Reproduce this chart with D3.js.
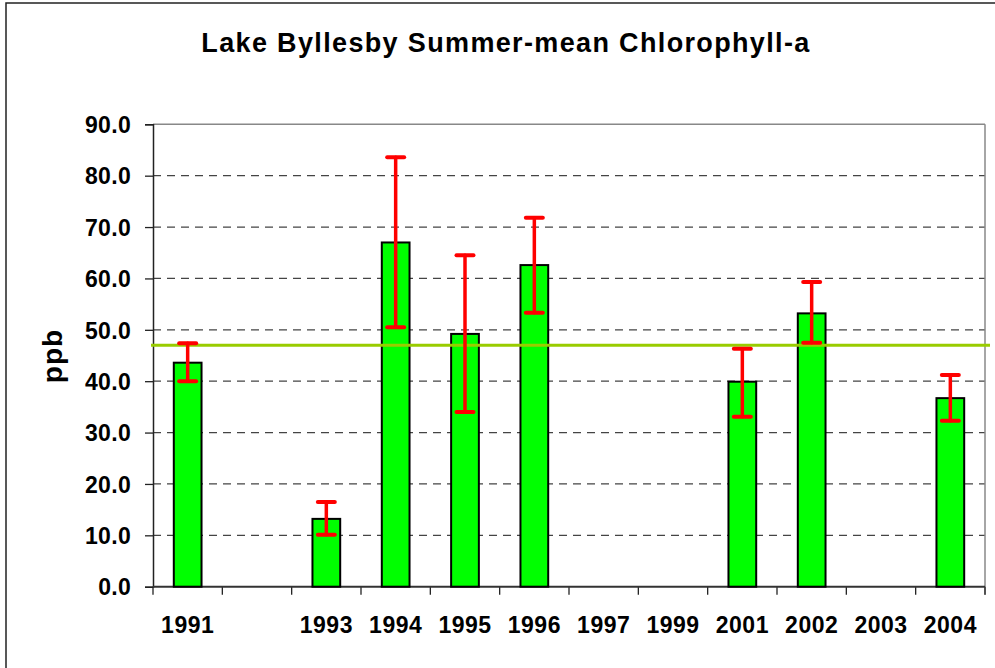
<!DOCTYPE html>
<html>
<head>
<meta charset="utf-8">
<script src="https://cdn.jsdelivr.net/npm/d3@7"></script>
<style>
  html, body { margin: 0; padding: 0; background: #fff; }
  svg { display: block; }
  text { font-family: "Liberation Sans", Arial, sans-serif; font-weight: bold; fill: #000; }
</style>
</head>
<body>
<svg id="chart" width="995" height="668"></svg>
<script>
// ---- data ----
const categories = ["1991", "1992", "1993", "1994", "1995", "1996", "1997", "1999", "2001", "2002", "2003", "2004"];
const tickLabels = ["1991", "", "1993", "1994", "1995", "1996", "1997", "1999", "2001", "2002", "2003", "2004"];
const means  = [43.6, null, 13.2, 67.0, 49.2, 62.6, null, null, 39.9, 53.2, null, 36.7];
const errLow = [40.0, null, 10.1, 50.5, 34.0, 53.3, null, null, 33.1, 47.5, null, 32.3];
const errHigh= [47.4, null, 16.5, 83.6, 64.5, 71.8, null, null, 46.3, 59.3, null, 41.2];
const referenceValue = 47.0;
const yTicks = [0, 10, 20, 30, 40, 50, 60, 70, 80, 90];
const titleText = "Lake Byllesby Summer-mean Chlorophyll-a";
const yTitle = "ppb";

// ---- layout ----
const svg = d3.select("#chart");
const pLeft = 153, pRight = 985, pTop = 124.3, pBottom = 586.7;

const x = d3.scaleBand().domain(categories).range([pLeft, pRight]).paddingInner(0).paddingOuter(0);
const y = d3.scaleLinear().domain([0, 90]).range([pBottom, pTop]);

// outer frame
svg.append("rect").attr("x", 6).attr("y", 3).attr("width", 1000).attr("height", 700)
  .attr("fill", "none").attr("stroke", "#222").attr("stroke-width", 1.5);

// title
svg.append("text").attr("x", 506).attr("y", 52).attr("text-anchor", "middle")
  .style("font-size", "27px").style("letter-spacing", "1.35px").text(titleText);

// gridlines (dashed)
svg.append("g").selectAll("line").data(yTicks.filter(d => d > 0 && d < 90)).join("line")
  .attr("x1", pLeft).attr("x2", pRight)
  .attr("y1", d => y(d)).attr("y2", d => y(d))
  .attr("stroke", "#444").attr("stroke-width", 1.3).attr("stroke-dasharray", "8,6");

// plot border top/right (gray)
svg.append("line").attr("x1", pLeft).attr("x2", pRight).attr("y1", y(90)).attr("y2", y(90))
  .attr("stroke", "#888").attr("stroke-width", 1.5);
svg.append("line").attr("x1", pRight).attr("x2", pRight).attr("y1", y(90)).attr("y2", pBottom + 8)
  .attr("stroke", "#888").attr("stroke-width", 1.5);

// y axis
const yAxis = d3.axisLeft(y).tickValues(yTicks).tickSize(8).tickPadding(14).tickFormat(d3.format(".1f"));
const gy = svg.append("g").attr("transform", `translate(${pLeft},0)`).call(yAxis);
gy.select(".domain").attr("stroke", "#222").attr("stroke-width", 1.5);
gy.selectAll(".tick line").attr("stroke", "#222").attr("stroke-width", 1.3);
gy.selectAll(".tick text").style("font-size", "23px").style("font-family", "'Liberation Sans', Arial, sans-serif")
  .style("font-weight", "bold").style("letter-spacing", "0.3px").attr("fill", "#000").attr("dy", "0.36em");

// x axis
const xAxis = d3.axisBottom(x).tickSize(0).tickPadding(30).tickFormat((d, i) => tickLabels[i]);
const gx = svg.append("g").attr("transform", `translate(0,${pBottom})`).call(xAxis);
gx.select(".domain").remove();
gx.selectAll(".tick text").style("font-size", "23px").style("font-family", "'Liberation Sans', Arial, sans-serif")
  .style("font-weight", "bold").style("letter-spacing", "0.5px").attr("fill", "#000");
// category boundary ticks
const boundaries = categories.map(c => x(c)).concat([pRight]);
svg.append("g").selectAll("line").data(boundaries).join("line")
  .attr("x1", d => d).attr("x2", d => d).attr("y1", pBottom).attr("y2", pBottom + 8)
  .attr("stroke", "#222").attr("stroke-width", 1.3);
svg.append("line").attr("x1", pLeft).attr("x2", pRight).attr("y1", pBottom).attr("y2", pBottom)
  .attr("stroke", "#333").attr("stroke-width", 2);

// y title
svg.append("text").attr("transform", `translate(62,356) rotate(-90)`).attr("text-anchor", "middle")
  .style("font-size", "28px").style("letter-spacing", "1px").text(yTitle);

// bars
const barW = x.bandwidth() * 0.4;
const rows = categories.map((c, i) => ({c, m: means[i], lo: errLow[i], hi: errHigh[i]})).filter(d => d.m != null);
svg.append("g").selectAll("rect").data(rows).join("rect")
  .attr("x", d => x(d.c) + x.bandwidth() / 2 - barW / 2)
  .attr("width", barW)
  .attr("y", d => y(d.m))
  .attr("height", d => y(0) - y(d.m))
  .attr("fill", "#00ff00").attr("stroke", "#000").attr("stroke-width", 2);

// reference line
svg.append("line").attr("x1", 151).attr("x2", 990)
  .attr("y1", y(referenceValue)).attr("y2", y(referenceValue))
  .attr("stroke", "#99cc00").attr("stroke-width", 3);

// error bars
const eb = svg.append("g").attr("stroke", "#ff0000").attr("stroke-linecap", "round");
const capW = 17;
eb.selectAll("line.v").data(rows).join("line").attr("class", "v")
  .attr("x1", d => x(d.c) + x.bandwidth() / 2).attr("x2", d => x(d.c) + x.bandwidth() / 2)
  .attr("y1", d => y(d.hi)).attr("y2", d => y(d.lo)).attr("stroke-width", 3.5);
eb.selectAll("line.t").data(rows).join("line").attr("class", "t")
  .attr("x1", d => x(d.c) + x.bandwidth() / 2 - capW / 2).attr("x2", d => x(d.c) + x.bandwidth() / 2 + capW / 2)
  .attr("y1", d => y(d.hi)).attr("y2", d => y(d.hi)).attr("stroke-width", 4);
eb.selectAll("line.b").data(rows).join("line").attr("class", "b")
  .attr("x1", d => x(d.c) + x.bandwidth() / 2 - capW / 2).attr("x2", d => x(d.c) + x.bandwidth() / 2 + capW / 2)
  .attr("y1", d => y(d.lo)).attr("y2", d => y(d.lo)).attr("stroke-width", 4);
</script>
</body>
</html>
